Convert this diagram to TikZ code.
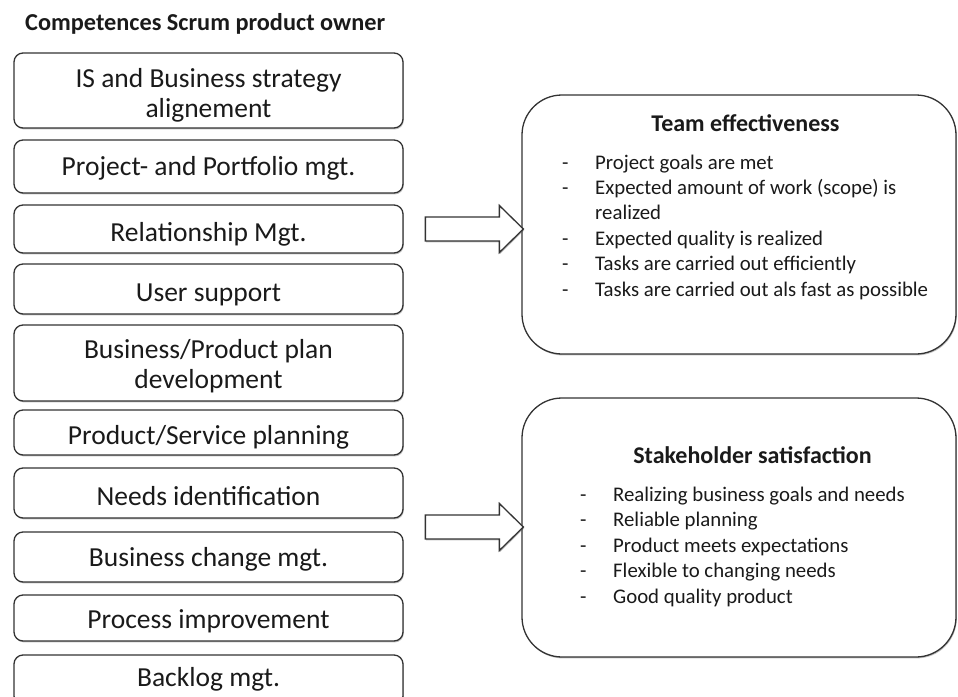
\documentclass[tikz,border=0pt]{standalone}
\usepackage{fontspec}
\setmainfont{Carlito}
\usetikzlibrary{shadows}
\definecolor{edge}{HTML}{333333}
\definecolor{ink}{HTML}{1A1A1A}

\begin{document}
\begin{tikzpicture}[x=1pt,y=-1pt,
  softshadow/.style={drop shadow={shadow xshift=0.8pt, shadow yshift=-1.4pt, opacity=0.35, fill=black!70}},
  skill/.style={draw=edge, line width=1.3pt, rounded corners=9pt, fill=white,
    minimum width=389pt, inner sep=0pt, softshadow},
  skilltext/.style={inner sep=0pt, align=center, text=ink,
    font=\fontsize{27.5}{30}\selectfont},
  outcome/.style={draw=edge, line width=1.3pt, rounded corners=40pt, fill=white,
    minimum width=434pt, minimum height=259pt, inner sep=0pt, softshadow},
  heading/.style={font=\bfseries\fontsize{24}{28}\selectfont, text=ink, inner sep=0pt},
  items/.style={font=\fontsize{20.8}{25.4}\selectfont, text=ink, align=left,
    inner sep=0pt, anchor=base west},
  blockarrow/.style={draw=edge, line width=1.3pt, fill=white, line join=miter, softshadow}
]
\useasboundingbox (0,0) rectangle (958,696);
\clip (0,0) rectangle (958,696);

% column heading
\node[font=\bfseries\fontsize{24.3}{28}\selectfont, text=ink, inner sep=0pt, anchor=base west]
  (title) at (25,30) {Competences Scrum product owner};

% competence boxes
\node[skill, minimum height=75pt] (s1)  at (208.5,90.5) {};
\node[skill, minimum height=53pt] (s2)  at (208.5,166.5) {};
\node[skill, minimum height=48pt] (s3)  at (208.5,229) {};
\node[skill, minimum height=50pt] (s4)  at (208.5,289) {};
\node[skill, minimum height=76pt] (s5)  at (208.5,363) {};
\node[skill, minimum height=45pt] (s6)  at (208.5,432.5) {};
\node[skill, minimum height=50pt] (s7)  at (208.5,493) {};
\node[skill, minimum height=50pt] (s8)  at (208.5,557) {};
\node[skill, minimum height=46pt] (s9)  at (208.5,618) {};
\node[skill, minimum height=50pt] (s10) at (208.5,680) {};

% their labels, set a little below the box centres
\node[skilltext] (s1t)  at (208.5,95)    {IS and Business strategy\\alignement};
\node[skilltext] (s2t)  at (208.5,168.5) {Project- and Portfolio mgt.};
\node[skilltext] (s3t)  at (208.5,234.5) {Relationship Mgt.};
\node[skilltext] (s4t)  at (208.5,294.5) {User support};
\node[skilltext] (s5t)  at (208.5,366.5) {Business/Product plan\\development};
\node[skilltext] (s6t)  at (208.5,437.5) {Product/Service planning};
\node[skilltext] (s7t)  at (208.5,496.5) {Needs identification};
\node[skilltext] (s8t)  at (208.5,559.5) {Business change mgt.};
\node[skilltext] (s9t)  at (208.5,621.5) {Process improvement};
\node[skilltext] (s10t) at (208.5,679.5) {Backlog mgt.};

% outcome boxes
\node[outcome] (team)  at (739,224.5) {};
\node[outcome] (stake) at (739,527.5) {};

\node[heading] (teamtitle) at (745.5,123) {Team effectiveness};
% the base anchor of a multi-line node sits on its last line
\node[items] (teamlist) at (562,296) {%
  \makebox[33pt][l]{-}Project goals are met\\
  \makebox[33pt][l]{-}Expected amount of work (scope) is\\
  \makebox[33pt][l]{}realized\\
  \makebox[33pt][l]{-}Expected quality is realized\\
  \makebox[33pt][l]{-}Tasks are carried out efficiently\\
  \makebox[33pt][l]{-}Tasks are carried out als fast as possible};

\node[heading] (staketitle) at (752.5,455) {Stakeholder satisfaction};
\node[items] (stakelist) at (580,603) {%
  \makebox[33pt][l]{-}Realizing business goals and needs\\
  \makebox[33pt][l]{-}Reliable planning\\
  \makebox[33pt][l]{-}Product meets expectations\\
  \makebox[33pt][l]{-}Flexible to changing needs\\
  \makebox[33pt][l]{-}Good quality product};

% block arrows pointing at the outcome boxes
\coordinate (tip1) at (team.west |- 0,229);
\coordinate (tip2) at (stake.west |- 0,527);
\foreach \t in {tip1,tip2}
  \draw[blockarrow] ([xshift=2pt]\t) -- ++(-24,-23.5) -- ++(0,11.5) -- ++(-74,0)
    -- ++(0,24) -- ++(74,0) -- ++(0,11.5) -- cycle;
\end{tikzpicture}
\end{document}
